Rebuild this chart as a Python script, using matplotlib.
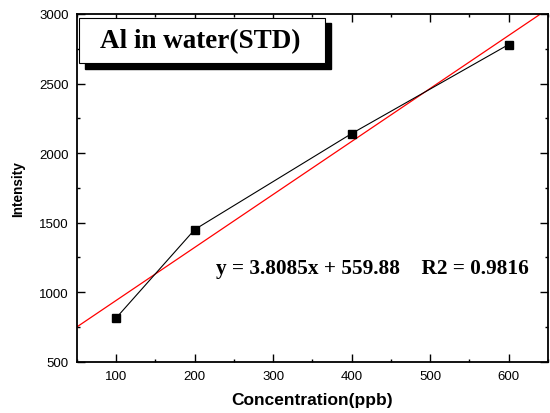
import numpy as np
import matplotlib.pyplot as plt
from matplotlib.ticker import MultipleLocator
from matplotlib.patches import Rectangle

# Al standard series
conc = [100, 200, 400, 600]
intensity = [815, 1450, 2140, 2780]

# linear fit reported by the instrument software
slope = 3.8085
intercept = 559.88
r2 = 0.9816

plt.rcParams['font.family'] = ['Liberation Sans', 'DejaVu Sans']

fig = plt.figure(figsize=(5.5, 4.14), dpi=100)
ax = fig.add_axes([0.14, 0.124, 0.856, 0.8398])

fit_x = np.array([50, 650])
ax.plot(fit_x, slope * fit_x + intercept, color='red', lw=0.9, zorder=2)
ax.plot(conc, intensity, color='black', lw=0.8, marker='s', ms=6,
        markerfacecolor='black', markeredgecolor='black', zorder=3)

ax.set_xlim(50, 650)
ax.set_ylim(500, 3000)
ax.xaxis.set_major_locator(MultipleLocator(100))
ax.xaxis.set_minor_locator(MultipleLocator(50))
ax.yaxis.set_major_locator(MultipleLocator(500))
ax.yaxis.set_minor_locator(MultipleLocator(250))
ax.tick_params(which='both', direction='in', top=True, right=True,
               width=1.0, labelsize=9.5)
ax.tick_params(which='major', length=5.5, pad=6)
ax.tick_params(which='minor', length=2.5)
for s in ax.spines.values():
    s.set_linewidth(1.3)

ax.set_xlabel('Concentration(ppb)', fontsize=12.5, fontweight='bold', labelpad=7)
ax.set_ylabel('Intensity', fontsize=9.8, fontweight='bold', labelpad=10)

# title box with drop shadow
px = fig.transFigure.inverted()
x0, y0 = px.transform((79, 414 - 64))
x1, y1 = px.transform((325, 414 - 19))
dx, dy = 5.5 / 550, 5.5 / 414
fig.patches.append(Rectangle((x0 + dx, y0 - dy), x1 - x0, y1 - y0,
                             transform=fig.transFigure, facecolor='black',
                             edgecolor='black', zorder=5))
fig.patches.append(Rectangle((x0, y0), x1 - x0, y1 - y0,
                             transform=fig.transFigure, facecolor='white',
                             edgecolor='black', lw=0.8, zorder=6))
fig.text((x0 + x1) / 2 - 0.003, (y0 + y1) / 2, 'Al in water(STD)',
         family=['Liberation Serif', 'DejaVu Serif'], fontweight='bold',
         fontsize=19.5, ha='center', va='center', zorder=7)

ax.text(426, 1175, f'y = {slope}x + {intercept}    R2 = {r2}',
        family=['Liberation Serif', 'DejaVu Serif'], fontweight='bold',
        fontsize=15.3, ha='center', va='center')

fig.savefig('out.png', dpi=100)
